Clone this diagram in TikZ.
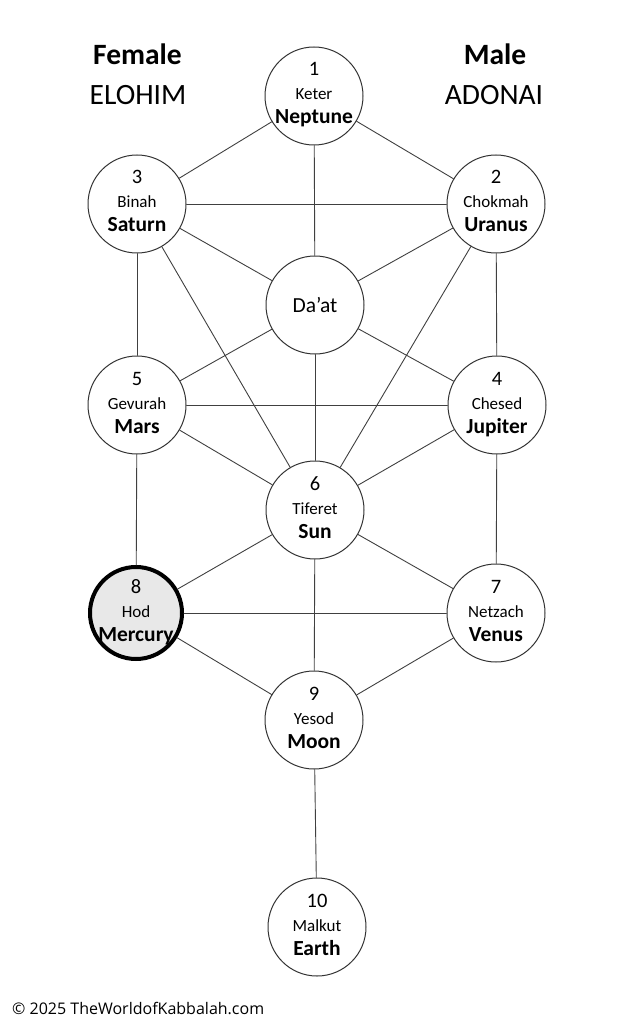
\documentclass[tikz,border=0pt]{standalone}
\usepackage{fontspec}
\setmainfont{Carlito}
\newfontfamily\creditfont{Open Sans}
\begin{document}
\begin{tikzpicture}[x=1pt,y=-1pt,line join=round,line cap=round]
	\tikzset{sefira/.style={circle,draw=black!80,line width=1pt,fill=white,minimum size=98pt,inner sep=0pt},
		marked/.style={sefira,draw=black,line width=4pt,fill=black!9,minimum size=92pt},
		link/.style={draw=black!75,line width=0.9pt},
		every node/.style={text=black}}
	\useasboundingbox (0,0) rectangle (633,1024);
	% pillars
	\node[anchor=base] (female) at (137.5,65) {\bfseries\fontsize{29.5}{34}\selectfont Female};
	\node[anchor=base] (elohim) at (138,105) {\fontsize{29.5}{34}\selectfont ELOHIM};
	\node[anchor=base] (male) at (495,65) {\bfseries\fontsize{29.5}{34}\selectfont Male};
	\node[anchor=base] (adonai) at (494,105) {\fontsize{29.5}{34}\selectfont ADONAI};
	% sefirot
	\foreach \n/\x/\y/\num/\title/\planet in {keter/314/96/1/Keter/Neptune, binah/137/204/3/Binah/Saturn,
		chokmah/496/204/2/Chokmah/Uranus, gevurah/137/405/5/Gevurah/Mars, chesed/497/405/4/Chesed/Jupiter,
		tiferet/315/510/6/Tiferet/Sun, netzach/496/613/7/Netzach/Venus, yesod/314/720/9/Yesod/Moon,
		malkut/317/927/10/Malkut/Earth}
	{
		\node[sefira] (\n) at (\x,\y) {};
		\node[anchor=base] (\n-num) at ([yshift=20pt]\n.center) {\fontsize{20.5}{24}\selectfont\num};
		\node[anchor=base] (\n-title) at ([yshift=-4pt]\n.center) {\fontsize{17}{20}\selectfont\title};
		\node[anchor=base] (\n-planet) at ([yshift=-28pt]\n.center) {\bfseries\fontsize{21.5}{24}\selectfont\planet};
	}
	\node[marked] (hod) at (136,613) {};
	\node[anchor=base] (hod-num) at ([yshift=20pt]hod.center) {\fontsize{20.5}{24}\selectfont 8};
	\node[anchor=base] (hod-title) at ([yshift=-4pt]hod.center) {\fontsize{17}{20}\selectfont Hod};
	\node[anchor=base] (hod-planet) at ([yshift=-28pt]hod.center) {\bfseries\fontsize{21.5}{24}\selectfont Mercury};
	\node[sefira] (daat) at (315,305) {};
	\node[anchor=base] (daat-title) at ([yshift=-7pt]daat.center) {\fontsize{21.5}{24}\selectfont Da’at};
	% paths
	\foreach \a/\b in {keter/binah, keter/chokmah, keter/daat, binah/chokmah, binah/daat, chokmah/daat,
		binah/gevurah, chokmah/chesed, binah/tiferet, chokmah/tiferet, daat/gevurah, daat/chesed,
		daat/tiferet, gevurah/chesed, gevurah/tiferet, chesed/tiferet, gevurah/hod, chesed/netzach,
		tiferet/hod, tiferet/netzach, hod/netzach, tiferet/yesod, hod/yesod, netzach/yesod, yesod/malkut}
	\draw[link] (\a) -- (\b);
	\node[anchor=base west,inner sep=0pt] (credit) at (12,1014) {\creditfont\fontsize{16}{19}\selectfont © 2025 TheWorldofKabbalah.com};
\end{tikzpicture}
\end{document}
